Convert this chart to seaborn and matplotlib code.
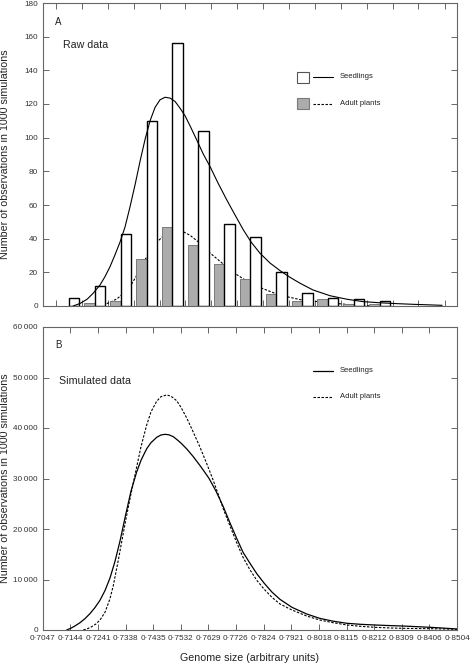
import numpy as np
import pandas as pd
import matplotlib
matplotlib.use("Agg")
import matplotlib.pyplot as plt
from matplotlib.patches import Rectangle
import seaborn as sns

# ---------------- data ----------------
tick_vals = [0.7047, 0.7144, 0.7241, 0.7338, 0.7435, 0.7532, 0.7629, 0.7726,
             0.7824, 0.7921, 0.8018, 0.8115, 0.8212, 0.8309, 0.8406, 0.8504]

# raw data counts per bin (bins between consecutive ticks)
seedling_counts = [5, 12, 43, 110, 156, 104, 49, 41, 20, 8, 5, 4, 3]
adult_counts = [0, 2, 3, 28, 47, 36, 25, 16, 7, 3, 4, 1, 1]

# fitted curves, panel A
fitA_seed_x = [0.71108, 0.71370, 0.71633, 0.71858, 0.72120, 0.72308, 0.72495, 0.72683,
               0.72870, 0.73058, 0.73245, 0.73433, 0.73620, 0.73808, 0.73995, 0.74183,
               0.74370, 0.74558, 0.74745, 0.74933, 0.75120, 0.75308, 0.75495, 0.75747,
               0.75983, 0.76245, 0.76545, 0.76872, 0.77183, 0.77494, 0.77783, 0.78120,
               0.78495, 0.78870, 0.79246, 0.79621, 0.80108, 0.80746, 0.81383, 0.81983,
               0.82621, 0.83258, 0.83858, 0.84421, 0.84946]
fitA_seed_y = [0, 1.5, 4, 7.5, 12.5, 17.5, 23.4, 30.5,
               38, 47, 59, 72, 86, 99, 110, 118,
               122.5, 124, 123.5, 121.5, 117.5, 113, 107, 98.6,
               90.5, 82.8, 73, 63, 54, 45.2, 38, 31.3,
               25.5, 21, 17, 13.5, 9.5, 6.1, 4.0, 2.6,
               1.9, 1.4, 1.0, 0.7, 0.4]

fitA_adult_x = [0.71933, 0.72120, 0.72308, 0.72495, 0.72758, 0.72945, 0.73170, 0.73320,
                0.73470, 0.73620, 0.73808, 0.73995, 0.74258, 0.74483, 0.74745, 0.74970,
                0.75195, 0.75495, 0.75795, 0.76058, 0.76245, 0.76508, 0.76733, 0.76995,
                0.77258, 0.77558, 0.77858, 0.78195, 0.78683, 0.79133, 0.79621, 0.80108,
                0.80633, 0.81121, 0.81608, 0.82058, 0.82433]
fitA_adult_y = [0, 0.5, 1.0, 2.2, 4.3, 6.8, 10, 13.5,
                17.5, 22, 27.5, 32.5, 38, 41.5, 44, 45,
                44.5, 42, 38.2, 34.5, 31.5, 28, 25, 21.5,
                18.5, 15.5, 13, 10.5, 7.5, 5.5, 3.8, 2.9,
                2.0, 1.3, 0.6, 0.2, 0]

# simulated curves, panel B
simB_seed_x = [0.71313, 0.71454, 0.71605, 0.71781, 0.71956, 0.72132, 0.72308, 0.72484,
               0.72659, 0.72835, 0.73011, 0.73186, 0.73397, 0.73573, 0.73773, 0.73924,
               0.74125, 0.74276, 0.74476, 0.74627, 0.74768, 0.74908, 0.75059, 0.75189,
               0.75340, 0.75541, 0.75762, 0.76033, 0.76314, 0.76560, 0.76816, 0.77052,
               0.77287, 0.77509, 0.77755, 0.78000, 0.78257, 0.78528, 0.78809, 0.79230,
               0.79747, 0.80204, 0.80671, 0.81174, 0.81655, 0.82147, 0.82639, 0.83120,
               0.83588, 0.84090, 0.84572, 0.85040]
simB_seed = [0, 330, 800, 1450, 2250, 3250, 4450, 5900,
             7800, 10300, 13600, 17600, 23100, 27500, 31300, 33600,
             35900, 37100, 38150, 38620, 38750, 38650, 38280, 37700,
             36960, 35800, 34320, 32300, 30030, 27500, 24420, 21200,
             18150, 15400, 13200, 11100, 9240, 7500, 6070, 4490,
             3170, 2310, 1750, 1320, 1120, 990, 880, 790,
             670, 530, 370, 200]

simB_adult_x = [0.71897, 0.72062, 0.72192, 0.72343, 0.72484, 0.72659, 0.72835, 0.72951,
                0.73116, 0.73257, 0.73397, 0.73573, 0.73773, 0.73924, 0.74125, 0.74276,
                0.74476, 0.74627, 0.74827, 0.74978, 0.75179, 0.75330, 0.75530, 0.75752,
                0.75998, 0.76244, 0.76465, 0.76630, 0.76816, 0.77052, 0.77287, 0.77509,
                0.77755, 0.78000, 0.78257, 0.78528, 0.78809, 0.79230, 0.79747, 0.80204,
                0.80671, 0.81174, 0.81655, 0.82147, 0.82639, 0.83120, 0.83588, 0.84090,
                0.84572, 0.85040]
simB_adult = [0, 300, 660, 1200, 1980, 3500, 6200, 8800,
              13500, 17800, 22000, 27000, 32300, 36300, 40600, 43200,
              45300, 46200, 46550, 46300, 45400, 44100, 42000, 39300,
              36200, 32800, 29600, 27000, 24000, 20600, 17300, 14400,
              11900, 9800, 8050, 6450, 5150, 3960, 2770, 1980,
              1450, 990, 720, 530, 410, 330, 290, 260,
              200, 130]

# ---------------- style ----------------
sns.set_style("ticks")
plt.rcParams["font.family"] = ["Liberation Sans", "DejaVu Sans"]
spine_col = "#666666"
text_col = "#222222"
dash = (0, (2.2, 1.4))

fig = plt.figure(figsize=(4.7, 6.64), dpi=100)
ax1 = fig.add_axes([42.7 / 470, 1 - 306 / 664, 414.6 / 470, 303 / 664])
ax2 = fig.add_axes([42.7 / 470, 1 - 630 / 664, 414.6 / 470, 303 / 664])

# ---------------- panel A ----------------
centers = [(a + b) / 2 for a, b in zip(tick_vals[:-1], tick_vals[1:])][:len(seedling_counts)]
bars = pd.DataFrame({
    "bin": centers * 2,
    "count": adult_counts + seedling_counts,
    "group": ["Adult plants"] * len(adult_counts) + ["Seedlings"] * len(seedling_counts),
})

sns.lineplot(x=fitA_adult_x, y=fitA_adult_y, ax=ax1, color="black", lw=0.8,
             linestyle=dash, zorder=1, legend=False)
sns.barplot(data=bars, x="bin", y="count", hue="group",
            hue_order=["Adult plants", "Seedlings"],
            palette={"Adult plants": "#acacac", "Seedlings": "white"},
            native_scale=True, width=0.81, saturation=1, errorbar=None,
            edgecolor="black", linewidth=1.0, legend=False, ax=ax1, zorder=2)
for p in ax1.patches:
    fc = p.get_facecolor()
    if fc[0] < 0.9:
        p.set_edgecolor("#7a7a7a")
        p.set_linewidth(0.7)
sns.lineplot(x=fitA_seed_x, y=fitA_seed_y, ax=ax1, color="black", lw=0.8,
             zorder=3, legend=False, solid_joinstyle="round")

ax1.set_xlim(0.69970, 0.85515)
ax1.set_ylim(0, 180)
ax1.set_xticks(tick_vals)
ax1.set_xticklabels([])
ax1.set_yticks(range(0, 181, 20))
ax1.set_xlabel("")

# legend A (drawn by hand)
ax1.add_patch(Rectangle((0.614, 0.737), 0.028, 0.036, transform=ax1.transAxes,
                        facecolor="white", edgecolor="#555555", lw=0.8))
ax1.add_patch(Rectangle((0.614, 0.649), 0.028, 0.038, transform=ax1.transAxes,
                        facecolor="#acacac", edgecolor="#7a7a7a", lw=0.8))
ax1.plot([0.651, 0.701], [0.756, 0.756], transform=ax1.transAxes, color="black", lw=0.8)
ax1.plot([0.651, 0.701], [0.668, 0.668], transform=ax1.transAxes, color="black",
         lw=0.8, linestyle=dash)
ax1.text(0.717, 0.756, "Seedlings", transform=ax1.transAxes, fontsize=5.5,
         va="center", color=text_col)
ax1.text(0.717, 0.668, "Adult plants", transform=ax1.transAxes, fontsize=5.5,
         va="center", color=text_col)
ax1.text(0.030, 0.938, "A", transform=ax1.transAxes, fontsize=7, va="center", color=text_col)
ax1.text(0.050, 0.861, "Raw data", transform=ax1.transAxes, fontsize=7.7,
         va="center", color=text_col)

# ---------------- panel B ----------------
sns.lineplot(x=simB_seed_x, y=simB_seed, ax=ax2, color="black", lw=0.9, legend=False,
             solid_joinstyle="round")
sns.lineplot(x=simB_adult_x, y=simB_adult, ax=ax2, color="black", lw=0.8,
             linestyle=dash, legend=False)

ax2.set_xlim(0.7047, 0.8504)
ax2.set_ylim(0, 60000)
ax2.set_xticks(tick_vals)
ax2.set_xticklabels([f"{v:.4f}".replace(".", "\u00b7") for v in tick_vals])
ax2.set_yticks(range(0, 60001, 10000))
ax2.set_yticklabels(["0"] + [f"{v // 1000}\u2009000" for v in range(10000, 60001, 10000)])

ax2.plot([0.651, 0.701], [0.856, 0.856], transform=ax2.transAxes, color="black", lw=0.9)
ax2.plot([0.651, 0.701], [0.770, 0.770], transform=ax2.transAxes, color="black",
         lw=0.8, linestyle=dash)
ax2.text(0.717, 0.856, "Seedlings", transform=ax2.transAxes, fontsize=5.5,
         va="center", color=text_col)
ax2.text(0.717, 0.770, "Adult plants", transform=ax2.transAxes, fontsize=5.5,
         va="center", color=text_col)
ax2.text(0.030, 0.941, "B", transform=ax2.transAxes, fontsize=7, va="center", color=text_col)
ax2.text(0.039, 0.822, "Simulated data", transform=ax2.transAxes, fontsize=7.7,
         va="center", color=text_col)

ax2.set_xlabel("Genome size (arbitrary units)", fontsize=7.7, color=text_col)
ax2.xaxis.set_label_coords(0.5, -0.076)

for ax in (ax1, ax2):
    ax.set_ylabel("Number of observations in 1000 simulations", fontsize=7.7, color=text_col)
    ax.yaxis.set_label_coords(-0.078, 0.5)
    ax.tick_params(direction="in", top=True, right=True, length=4, width=0.7,
                   color=spine_col, labelsize=5.9, labelcolor="#333333", pad=3.5)
    for s in ax.spines.values():
        s.set_color(spine_col)
        s.set_linewidth(0.8)
    ax.set_facecolor("white")

fig.savefig("out.png", dpi=100)
